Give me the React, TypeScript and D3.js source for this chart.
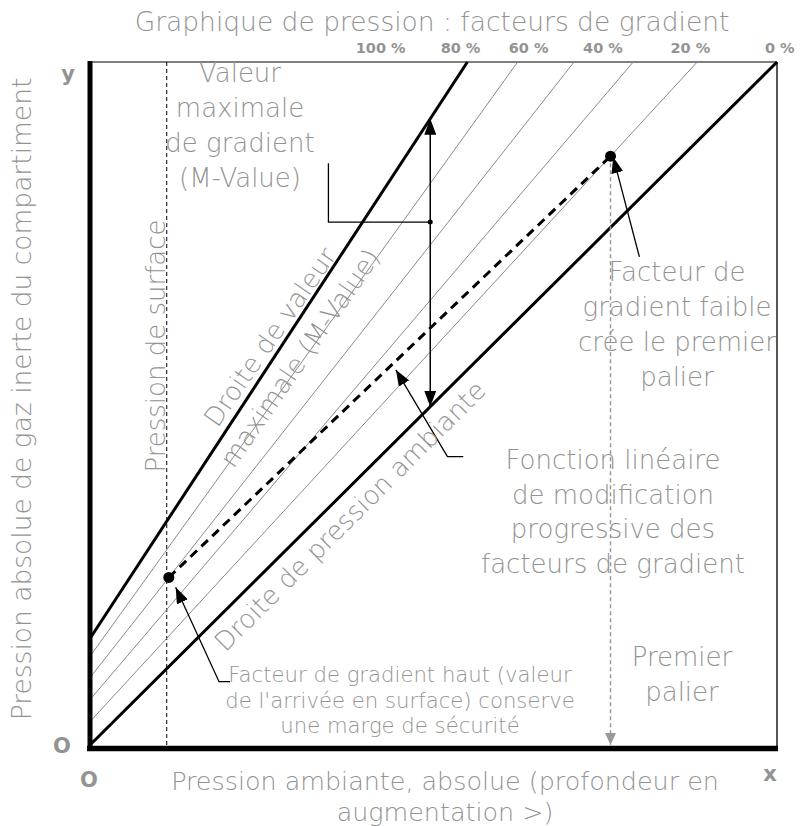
import React from 'react';
import * as d3 from 'd3';

// gradient factor lines: y at x=0 and x where they hit the top (data units 0..100)
const factors = [100, 80, 60, 40, 20, 0];
const intercepts = [15.5, 12.9, 9.8, 6.6, 3.4, 0];
const topX = [55.0, 62.3, 70.5, 79.1, 88.4, 100];

const factorLabels = ['100 %', '80 %', '60 %', '40 %', '20 %', '0 %'];
const factorLabelX = [42.4, 54.0, 63.9, 74.7, 87.4, 100.4];

// gradient factor points (high / low) and pressures
const gfHighFactor = 60;
const gfHighX = 11.6;
const gfLowFactor = 20;
const gfLowX = 75.8;
const surfaceX = 11.3;
const mValueArrowX = 49.6;

// leader lines for the annotations
const mValueLeader: [number, number][] = [[34.8, 85.2], [34.8, 76.6], [49.6, 76.6]];
const linearLeader: [number, number][] = [[54.4, 42.3], [52.1, 42.3], [44.6, 55.0]];
const lowLeader: [number, number][] = [[80.0, 71.5], [76.2, 86.1]];
const highLeader: [number, number][] = [[20.5, 9.4], [18.9, 9.4], [12.6, 23.2]];

const mValueText = ['Valeur', 'maximale', 'de gradient', '(M-Value)'];
const lowText = ['Facteur de', 'gradient faible', 'crée le premier', 'palier'];
const linearText = ['Fonction linéaire', 'de modification', 'progressive des', 'facteurs de gradient'];
const stopText = ['Premier', 'palier'];
const highText = ["Facteur de gradient haut (valeur", "de l'arrivée en surface) conserve", 'une marge de sécurité'];
const xTitle = ['Pression ambiante, absolue (profondeur en', 'augmentation >)'];

const W = 800;
const H = 826;
const GRAY = '#939393';
const FONT = '"DejaVu Sans", sans-serif';
const FS = 26;

export default function App() {
  const x = d3.scaleLinear().domain([0, 100]).range([89, 777]);
  const y = d3.scaleLinear().domain([0, 100]).range([746, 62]);

  const idx = (f: number) => factors.indexOf(f);
  const lineY = (i: number, xv: number) => intercepts[i] + (xv * (100 - intercepts[i])) / topX[i];

  const line = d3.line<[number, number]>().x(d => x(d[0])).y(d => y(d[1]));

  const hiY = lineY(idx(gfHighFactor), gfHighX);
  const loY = lineY(idx(gfLowFactor), gfLowX);
  const mTop = lineY(0, mValueArrowX);
  const mBot = lineY(idx(0), mValueArrowX);

  const angleOf = (i: number) =>
    (Math.atan2(y(100) - y(intercepts[i]), x(topX[i]) - x(0)) * 180) / Math.PI;

  const block = (lines: string[], cx: number, by: number, lh: number, size: number) =>
    lines.map((t, k) => (
      <text key={k} x={cx} y={by + k * lh} textAnchor="middle" fontSize={size} fontWeight={300} fill={GRAY}>{t}</text>
    ));

  return (
    <svg width={W} height={H} style={{ position: 'absolute', left: 0, top: 0 }} fontFamily={FONT}>
      <defs>
        <marker id="big" viewBox="0 0 10 10" refX="10" refY="5" markerWidth="16" markerHeight="12"
          markerUnits="userSpaceOnUse" orient="auto-start-reverse" preserveAspectRatio="none">
          <path d="M0,0L10,5L0,10Z" fill="#000" />
        </marker>
        <marker id="grayHead" viewBox="0 0 10 10" refX="10" refY="5" markerWidth="12" markerHeight="11"
          markerUnits="userSpaceOnUse" orient="auto" preserveAspectRatio="none">
          <path d="M0,0L10,5L0,10Z" fill="#999" />
        </marker>
      </defs>

      <rect width={W} height={H} fill="#fff" />

      {/* title */}
      <text x={432} y={31} textAnchor="middle" fontSize={26.5} fontWeight={300} fill={GRAY}>Graphique de pression : facteurs de gradient</text>
      {factorLabels.map((t, i) => (
        <text key={t} x={x(factorLabelX[i])} y={53} textAnchor="middle" fontSize={14.5} fontWeight={700} fill={GRAY}>{t}</text>
      ))}

      {/* frame */}
      <line x1={x(0)} x2={x(100)} y1={y(100)} y2={y(100)} stroke="#555" strokeWidth={1.5} />
      <line x1={x(100)} x2={x(100)} y1={y(100)} y2={y(0) + 2} stroke="#555" strokeWidth={2} />

      {/* surface pressure */}
      <line x1={x(surfaceX)} x2={x(surfaceX)} y1={y(100)} y2={y(0)} stroke="#000" strokeWidth={1} strokeDasharray="4,3" />

      {/* gradient factor lines */}
      {factors.map((f, i) => (
        <path key={f} d={line([[0, intercepts[i]], [topX[i], 100]]) || ''} fill="none"
          stroke={f === 100 || f === 0 ? '#000' : '#8a8a8a'} strokeWidth={f === 100 || f === 0 ? 3 : 1} />
      ))}

      {/* first stop */}
      <line x1={x(gfLowX)} x2={x(gfLowX)} y1={y(loY)} y2={y(0) - 1} stroke="#999" strokeWidth={1.5}
        strokeDasharray="4,3" markerEnd="url(#grayHead)" />

      {/* linear gradient factor function */}
      <path d={line([[gfHighX, hiY], [gfLowX, loY]]) || ''} stroke="#000" strokeWidth={3} strokeDasharray="9,6" fill="none" />
      <circle cx={x(gfHighX)} cy={y(hiY)} r={5.5} fill="#000" />
      <circle cx={x(gfLowX)} cy={y(loY)} r={5.5} fill="#000" />

      {/* M-value double arrow */}
      <line x1={x(mValueArrowX)} x2={x(mValueArrowX)} y1={y(mTop)} y2={y(mBot)} stroke="#000" strokeWidth={1.5}
        markerStart="url(#big)" markerEnd="url(#big)" />

      {/* leaders */}
      <path d={line(mValueLeader) || ''} fill="none" stroke="#000" strokeWidth={1.3} />
      <circle cx={x(mValueLeader[2][0])} cy={y(mValueLeader[2][1])} r={2.5} fill="#000" />
      <path d={line(linearLeader) || ''} fill="none" stroke="#000" strokeWidth={1.3} markerEnd="url(#big)" />
      <path d={line(lowLeader) || ''} fill="none" stroke="#000" strokeWidth={1.3} markerEnd="url(#big)" />
      <path d={line(highLeader) || ''} fill="none" stroke="#000" strokeWidth={1.3} markerEnd="url(#big)" />

      {/* axes */}
      <line x1={x(0) + 1} x2={x(0) + 1} y1={y(100) - 1} y2={y(0) + 5} stroke="#000" strokeWidth={5} />
      <line x1={x(0) - 2} x2={x(100) + 1} y1={y(0) + 2.5} y2={y(0) + 2.5} stroke="#000" strokeWidth={5.5} />

      <text x={68} y={81} textAnchor="middle" fontSize={21} fontWeight={700} fill={GRAY}>y</text>
      <text x={62} y={753} textAnchor="middle" fontSize={21} fontWeight={700} fill={GRAY}>O</text>
      <text x={89} y={787} textAnchor="middle" fontSize={21} fontWeight={700} fill={GRAY}>O</text>
      <text x={770} y={781} textAnchor="middle" fontSize={21} fontWeight={700} fill={GRAY}>x</text>

      <text transform="translate(31,399) rotate(-90)" textAnchor="middle" fontSize={26.5} fontWeight={300} fill={GRAY}>
        Pression absolue de gaz inerte du compartiment
      </text>
      {block(xTitle, 445, 790, 31, 25.4)}

      {/* inner annotations */}
      <text transform="translate(165,346) rotate(-90)" textAnchor="middle" fontSize={FS} fontWeight={300} fill={GRAY}>Pression de surface</text>
      <text transform={`translate(270,337) rotate(${angleOf(0) + 1.5})`} textAnchor="middle" dominantBaseline="central" fontSize={FS} fontWeight={300} fill={GRAY}>Droite de valeur</text>
      <text transform={`translate(300,358) rotate(${angleOf(0) + 1.5})`} textAnchor="middle" dominantBaseline="central" fontSize={FS} fontWeight={300} fill={GRAY}>maximale (M-Value)</text>
      <text transform={`translate(350,516) rotate(${angleOf(5)})`} textAnchor="middle" dominantBaseline="central" fontSize={FS} fontWeight={300} fill={GRAY}>Droite de pression ambiante</text>

      {block(mValueText, 240, 82, 35, FS)}
      {block(lowText, 677, 281, 35, FS)}
      {block(linearText, 613, 469, 34.5, FS)}
      {block(stopText, 682, 666, 35, FS)}
      {block(highText, 400, 682, 25.5, 21.2)}
    </svg>
  );
}
